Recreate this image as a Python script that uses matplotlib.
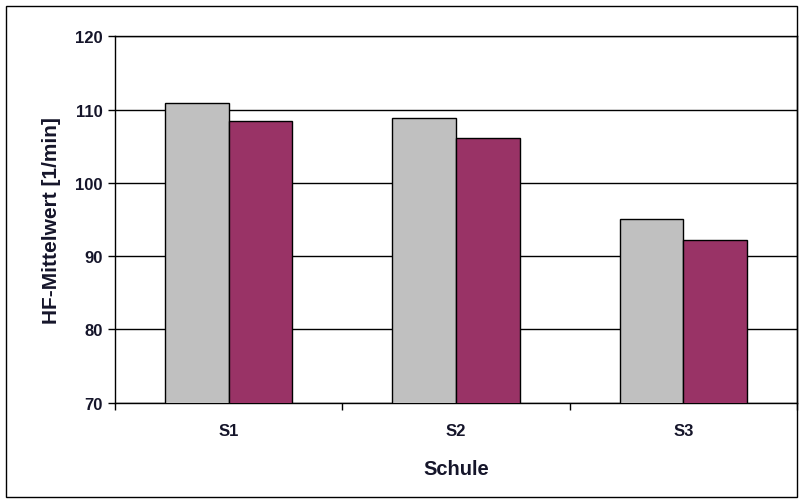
import numpy as np
import matplotlib.pyplot as plt
from matplotlib.patches import Rectangle

# Mean heart rate per school, two measurements each
schools = ['S1', 'S2', 'S3']
hf_grey = [110.9, 108.9, 95.1]
hf_red = [108.4, 106.2, 92.2]

plt.rcParams['font.family'] = ['Liberation Sans', 'DejaVu Sans']
txt = '#15152a'

fig = plt.figure(figsize=(8.03, 5.02), dpi=100)
ax = fig.add_axes([0.1432, 0.1962, 0.8493, 0.7291])

x = np.arange(len(schools))
w = 0.28
ax.bar(x - w / 2, hf_grey, w, color='#C0C0C0', edgecolor='black', linewidth=1, zorder=3)
ax.bar(x + w / 2, hf_red, w, color='#993366', edgecolor='black', linewidth=1, zorder=3)

ax.set_xlim(-0.5, 2.5)
ax.set_ylim(70, 120)
ax.set_yticks([70, 80, 90, 100, 110, 120])
ax.yaxis.grid(True, color='black', linewidth=1, zorder=0)

# category ticks sit between the groups, labels centred under them
ax.set_xticks([-0.5, 0.5, 1.5, 2.5])
ax.set_xticklabels([])
ax.set_xticks(x, minor=True)
ax.set_xticklabels(schools, minor=True, fontsize=12, fontweight='bold', color=txt)
ax.tick_params(axis='x', which='minor', length=0, pad=15)
ax.tick_params(axis='x', which='major', direction='out', length=5, width=1)
ax.tick_params(axis='y', direction='out', length=5, width=1, labelsize=12, pad=4, labelcolor=txt)
for lbl in ax.get_yticklabels():
    lbl.set_fontweight('bold')

for s in ax.spines.values():
    s.set_linewidth(1)
    s.set_color('black')

ax.set_xlabel('Schule', fontsize=14.5, fontweight='bold', labelpad=15, color=txt)
ax.set_ylabel('HF-Mittelwert [1/min]', fontsize=15, fontweight='bold', labelpad=10, color=txt)

# outer chart frame
fig.patches.append(Rectangle((0.008, 0.008), 0.984, 0.978, transform=fig.transFigure,
                             fill=False, edgecolor='black', linewidth=1))

fig.savefig('out.png', dpi=100)
